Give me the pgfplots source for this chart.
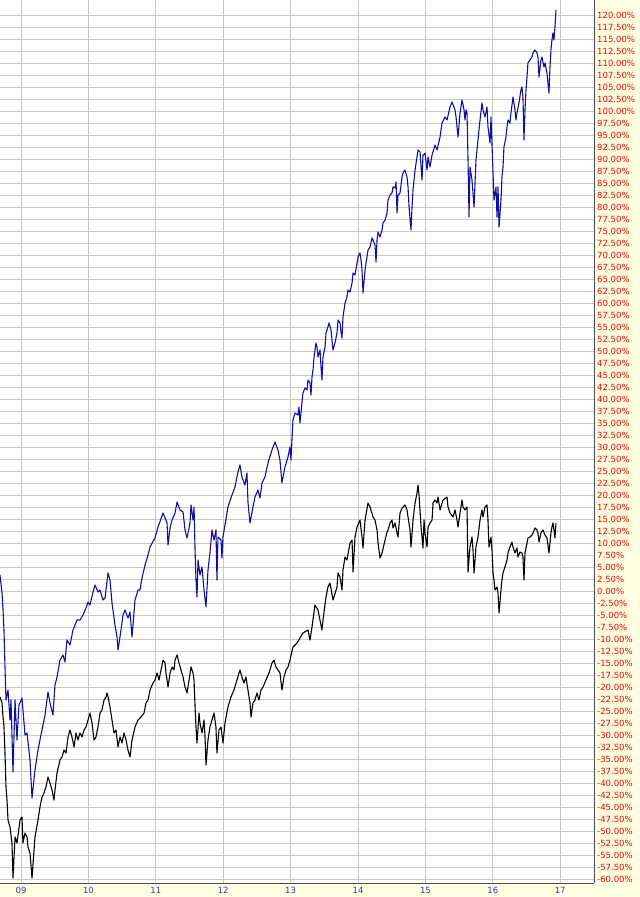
\documentclass[border=0pt]{standalone}
\usepackage{pgfplots}
\pgfplotsset{compat=1.18}
\usepackage{fontspec}
\setmainfont{DejaVu Sans}
\definecolor{bgyellow}{RGB}{255,255,225}
\definecolor{gridgray}{RGB}{200,200,200}
\definecolor{navy}{RGB}{16,16,160}
\definecolor{lblred}{RGB}{255,0,0}
\definecolor{lblblue}{RGB}{50,50,200}
\begin{document}
\begin{tikzpicture}
\fill[bgyellow] (0,0) rectangle (640bp,-897bp);
\begin{axis}[
  at={(0,0)}, anchor=north west,
  scale only axis, width=594bp, height=883bp,
  xmin=2008.688, xmax=2017.501,
  ymin=-60.833, ymax=123.125,
  axis background/.style={fill=white},
  axis x line*=bottom, axis y line*=right,
  axis line style={draw=black!70, line width=0.8bp},
  xtick={2009,2010,2011,2012,2013,2014,2015,2016,2017},
  xticklabels={09,10,11,12,13,14,15,16,17},
  ytick={-60,-57.5,...,120},
  major tick length=0pt,
  grid=major,
  major grid style={draw=gridgray, line width=0.9bp},
  /pgf/number format/assume math mode=true,
  tick label style={font=\fontsize{8.5bp}{10bp}\selectfont},
  yticklabel pos=right,
  yticklabel={\pgfmathprintnumber[fixed,fixed zerofill,precision=2]{\tick}\%},
  yticklabel style={anchor=west, inner sep=0pt, xshift=3bp, text=lblred},
  xticklabel style={anchor=north, inner sep=0pt, yshift=-3.8bp, text=lblblue},
  clip=true,
]
\addplot[navy, line width=1.1bp, line join=round] coordinates {
(2008.688,3.33)(2008.718,-0.42)(2008.733,-3.96)(2008.747,-8.13)(2008.762,-15.83)(2008.777,-22.71)(2008.807,-20.63)(2008.836,-26.88)(2008.851,-22.71)(2008.881,-37.71)(2008.911,-22.71)(2008.940,-31.04)(2008.970,-23.75)(2009.014,-22.29)(2009.059,-30.0)(2009.089,-29.58)(2009.133,-35.21)(2009.163,-43.13)(2009.207,-37.29)(2009.252,-33.13)(2009.281,-31.04)(2009.326,-27.92)(2009.356,-25.83)(2009.400,-21.04)(2009.430,-23.33)(2009.474,-25.83)(2009.504,-19.58)(2009.534,-17.92)(2009.578,-14.38)(2009.623,-13.33)(2009.652,-14.79)(2009.682,-10.21)(2009.727,-11.25)(2009.771,-8.13)(2009.830,-6.04)(2009.875,-6.04)(2009.919,-5.0)(2009.964,-3.54)(2009.994,-2.29)(2010.023,-2.92)(2010.068,-0.21)(2010.098,1.25)(2010.142,-0.21)(2010.172,0.21)(2010.216,-1.88)(2010.246,-1.46)(2010.291,3.75)(2010.320,2.29)(2010.350,-2.5)(2010.394,-7.08)(2010.424,-9.58)(2010.439,-12.29)(2010.483,-8.13)(2010.513,-5.0)(2010.543,-3.96)(2010.587,-5.63)(2010.617,-4.38)(2010.647,-9.58)(2010.691,-1.88)(2010.736,0.21)(2010.765,0.21)(2010.795,2.71)(2010.840,5.42)(2010.884,7.5)(2010.914,9.17)(2010.988,11.04)(2011.033,13.33)(2011.107,16.25)(2011.137,15.21)(2011.166,14.17)(2011.181,9.58)(2011.211,13.13)(2011.240,14.79)(2011.285,16.25)(2011.315,18.54)(2011.359,16.88)(2011.404,16.46)(2011.433,12.71)(2011.463,11.04)(2011.507,14.17)(2011.522,17.92)(2011.552,14.79)(2011.567,17.5)(2011.582,8.54)(2011.596,2.29)(2011.611,-1.25)(2011.626,6.46)(2011.655,3.33)(2011.685,5.0)(2011.715,0.21)(2011.744,-3.33)(2011.774,4.38)(2011.803,7.92)(2011.833,12.71)(2011.863,10.63)(2011.892,12.71)(2011.907,2.29)(2011.922,11.25)(2011.967,10.63)(2011.981,6.88)(2011.996,11.25)(2012.056,16.25)(2012.070,17.5)(2012.130,20.0)(2012.174,21.67)(2012.219,24.79)(2012.248,26.25)(2012.278,23.75)(2012.322,22.08)(2012.352,24.58)(2012.367,18.54)(2012.397,14.17)(2012.441,17.5)(2012.471,19.58)(2012.515,21.04)(2012.545,19.38)(2012.575,22.5)(2012.619,23.75)(2012.664,26.67)(2012.723,29.38)(2012.768,31.04)(2012.812,29.38)(2012.842,27.29)(2012.871,22.5)(2012.916,25.83)(2012.961,27.92)(2012.990,30.0)(2013.005,27.29)(2013.035,35.63)(2013.064,37.08)(2013.109,36.67)(2013.124,38.33)(2013.139,35.0)(2013.168,39.17)(2013.183,41.25)(2013.213,42.29)(2013.243,41.88)(2013.258,43.96)(2013.287,43.33)(2013.302,40.83)(2013.317,44.58)(2013.332,46.04)(2013.347,48.75)(2013.376,51.67)(2013.391,50.83)(2013.406,48.75)(2013.436,50.21)(2013.451,46.67)(2013.465,43.96)(2013.480,48.75)(2013.510,50.83)(2013.525,53.75)(2013.540,54.38)(2013.569,55.83)(2013.599,54.38)(2013.614,52.29)(2013.629,50.21)(2013.658,51.67)(2013.688,53.75)(2013.703,56.46)(2013.733,55.83)(2013.747,53.96)(2013.762,52.71)(2013.777,57.08)(2013.807,60.0)(2013.836,61.25)(2013.851,62.71)(2013.881,62.29)(2013.911,64.17)(2013.926,66.25)(2013.955,65.83)(2013.985,68.33)(2014.000,69.58)(2014.029,70.42)(2014.044,68.96)(2014.059,66.88)(2014.074,62.08)(2014.104,66.88)(2014.133,69.58)(2014.148,71.04)(2014.178,71.67)(2014.208,73.54)(2014.223,73.13)(2014.252,72.08)(2014.267,68.54)(2014.282,73.13)(2014.297,74.79)(2014.326,73.75)(2014.356,75.21)(2014.371,76.67)(2014.401,77.29)(2014.430,78.75)(2014.445,81.46)(2014.475,82.5)(2014.504,82.92)(2014.519,84.17)(2014.549,83.96)(2014.564,85.21)(2014.579,78.75)(2014.593,82.5)(2014.623,82.92)(2014.653,86.25)(2014.668,87.08)(2014.697,87.71)(2014.727,86.25)(2014.742,84.17)(2014.757,80.0)(2014.786,75.21)(2014.801,80.0)(2014.816,83.54)(2014.846,87.71)(2014.875,90.42)(2014.890,91.88)(2014.920,91.46)(2014.949,85.63)(2014.964,90.83)(2014.994,91.25)(2015.024,87.71)(2015.039,90.42)(2015.068,88.33)(2015.098,90.83)(2015.143,92.92)(2015.172,91.88)(2015.217,94.58)(2015.246,97.5)(2015.291,98.75)(2015.320,98.13)(2015.365,100.83)(2015.395,101.88)(2015.439,100.21)(2015.454,98.75)(2015.484,94.58)(2015.513,99.58)(2015.543,102.29)(2015.573,100.21)(2015.587,98.13)(2015.602,100.21)(2015.617,99.58)(2015.632,89.79)(2015.647,77.92)(2015.661,88.33)(2015.691,85.63)(2015.721,80.0)(2015.750,89.79)(2015.780,93.96)(2015.810,98.13)(2015.839,101.67)(2015.854,100.21)(2015.884,98.75)(2015.914,100.83)(2015.928,96.67)(2015.958,93.33)(2015.973,98.75)(2016.003,87.08)(2016.017,81.46)(2016.047,84.17)(2016.062,77.92)(2016.077,84.17)(2016.092,75.83)(2016.121,81.46)(2016.136,86.25)(2016.151,88.33)(2016.165,92.5)(2016.195,94.58)(2016.210,96.67)(2016.225,98.13)(2016.254,97.5)(2016.269,99.58)(2016.299,102.92)(2016.329,100.21)(2016.343,98.13)(2016.358,99.58)(2016.388,101.67)(2016.417,104.38)(2016.432,105.0)(2016.447,102.92)(2016.462,93.96)(2016.477,100.21)(2016.492,104.38)(2016.507,107.08)(2016.521,110.0)(2016.551,110.63)(2016.581,111.25)(2016.596,112.08)(2016.625,112.71)(2016.655,112.08)(2016.670,111.25)(2016.685,107.08)(2016.714,110.63)(2016.729,111.25)(2016.759,109.17)(2016.774,110.0)(2016.803,107.92)(2016.818,105.83)(2016.833,103.75)(2016.848,109.17)(2016.862,112.71)(2016.877,114.79)(2016.892,116.25)(2016.907,114.79)(2016.922,117.5)(2016.937,121.04)
};
\addplot[black, line width=1.1bp, line join=round] coordinates {
(2008.688,-22.08)(2008.718,-23.33)(2008.733,-26.25)(2008.747,-28.33)(2008.762,-33.75)(2008.777,-40.83)(2008.792,-43.54)(2008.807,-47.71)(2008.836,-49.17)(2008.866,-52.5)(2008.881,-59.8)(2008.911,-51.25)(2008.940,-52.5)(2008.985,-47.71)(2009.014,-47.08)(2009.029,-52.5)(2009.059,-50.42)(2009.089,-51.25)(2009.103,-53.33)(2009.133,-54.58)(2009.163,-59.79)(2009.207,-51.25)(2009.252,-47.71)(2009.281,-45.0)(2009.311,-42.92)(2009.341,-42.08)(2009.370,-40.83)(2009.400,-38.75)(2009.430,-40.0)(2009.460,-41.46)(2009.489,-43.54)(2009.504,-41.46)(2009.534,-37.92)(2009.578,-35.21)(2009.608,-34.58)(2009.638,-33.13)(2009.667,-33.75)(2009.697,-30.42)(2009.727,-28.96)(2009.756,-30.42)(2009.786,-32.5)(2009.816,-29.58)(2009.845,-31.04)(2009.875,-29.58)(2009.905,-30.42)(2009.934,-28.96)(2009.964,-28.33)(2009.994,-26.88)(2010.023,-25.42)(2010.053,-27.5)(2010.083,-31.04)(2010.112,-30.42)(2010.142,-28.33)(2010.172,-25.42)(2010.201,-24.79)(2010.231,-22.71)(2010.261,-22.08)(2010.276,-21.25)(2010.291,-22.08)(2010.320,-24.17)(2010.350,-26.88)(2010.380,-29.58)(2010.409,-28.96)(2010.439,-32.5)(2010.469,-30.42)(2010.498,-31.67)(2010.528,-29.58)(2010.558,-31.04)(2010.587,-33.13)(2010.617,-34.58)(2010.647,-31.04)(2010.691,-28.33)(2010.736,-26.88)(2010.780,-26.25)(2010.825,-25.42)(2010.854,-23.33)(2010.884,-22.71)(2010.914,-20.63)(2010.958,-19.17)(2010.988,-18.54)(2011.018,-17.08)(2011.047,-18.54)(2011.077,-16.46)(2011.107,-14.38)(2011.137,-15.0)(2011.151,-17.08)(2011.181,-20.0)(2011.211,-17.08)(2011.240,-15.83)(2011.270,-16.46)(2011.285,-14.38)(2011.315,-13.33)(2011.344,-15.0)(2011.374,-16.46)(2011.404,-17.92)(2011.433,-20.0)(2011.463,-21.25)(2011.493,-18.54)(2011.522,-15.83)(2011.552,-17.08)(2011.567,-18.54)(2011.582,-24.17)(2011.596,-28.33)(2011.611,-31.67)(2011.641,-25.42)(2011.655,-27.5)(2011.685,-29.58)(2011.715,-26.88)(2011.730,-30.42)(2011.744,-36.25)(2011.774,-31.04)(2011.803,-28.33)(2011.833,-26.88)(2011.863,-25.42)(2011.892,-28.33)(2011.907,-33.75)(2011.937,-28.96)(2011.967,-28.33)(2011.996,-31.67)(2012.026,-27.5)(2012.070,-24.17)(2012.115,-22.08)(2012.159,-20.63)(2012.204,-18.54)(2012.233,-17.08)(2012.248,-16.46)(2012.278,-17.92)(2012.308,-19.17)(2012.337,-17.92)(2012.367,-20.63)(2012.397,-23.33)(2012.412,-26.25)(2012.441,-23.33)(2012.471,-22.71)(2012.501,-21.25)(2012.530,-22.71)(2012.560,-20.63)(2012.590,-20.0)(2012.634,-18.54)(2012.679,-17.08)(2012.723,-15.0)(2012.753,-14.38)(2012.782,-15.83)(2012.812,-16.46)(2012.842,-17.08)(2012.871,-20.63)(2012.901,-17.92)(2012.931,-16.46)(2012.961,-15.83)(2012.990,-14.38)(2013.035,-11.67)(2013.094,-10.83)(2013.139,-9.79)(2013.183,-8.75)(2013.258,-8.13)(2013.287,-10.21)(2013.317,-7.5)(2013.361,-2.92)(2013.406,-3.96)(2013.465,-8.13)(2013.480,-6.04)(2013.525,-1.25)(2013.554,0.83)(2013.584,1.67)(2013.629,-1.88)(2013.688,0.83)(2013.703,3.75)(2013.733,2.92)(2013.762,0.21)(2013.777,4.38)(2013.807,7.08)(2013.836,6.46)(2013.881,10.0)(2013.911,10.63)(2013.926,3.96)(2013.955,11.25)(2013.985,13.33)(2014.029,14.79)(2014.059,11.25)(2014.074,8.96)(2014.104,14.79)(2014.148,18.33)(2014.178,17.5)(2014.223,15.42)(2014.252,14.79)(2014.282,12.71)(2014.297,10.0)(2014.326,6.88)(2014.356,7.92)(2014.401,10.63)(2014.430,12.29)(2014.445,12.71)(2014.475,14.17)(2014.504,14.79)(2014.519,13.13)(2014.549,14.17)(2014.579,12.08)(2014.593,11.25)(2014.623,16.25)(2014.653,17.29)(2014.668,17.5)(2014.697,17.92)(2014.727,16.88)(2014.742,15.42)(2014.771,12.71)(2014.786,9.17)(2014.816,14.79)(2014.846,18.33)(2014.875,20.42)(2014.890,22.08)(2014.905,20.0)(2014.935,13.33)(2014.949,11.25)(2014.964,8.96)(2014.979,14.79)(2014.994,12.08)(2015.024,9.17)(2015.039,13.33)(2015.068,14.17)(2015.098,14.79)(2015.113,18.33)(2015.143,18.96)(2015.172,18.33)(2015.187,19.58)(2015.217,16.88)(2015.261,18.96)(2015.320,19.58)(2015.335,17.5)(2015.365,16.25)(2015.410,15.42)(2015.439,16.88)(2015.469,14.79)(2015.484,13.33)(2015.513,16.25)(2015.543,18.96)(2015.558,17.5)(2015.587,16.88)(2015.617,17.5)(2015.632,3.96)(2015.661,9.17)(2015.691,11.25)(2015.706,8.54)(2015.721,3.75)(2015.750,9.17)(2015.780,11.25)(2015.810,14.79)(2015.839,16.88)(2015.854,15.42)(2015.884,17.5)(2015.914,17.92)(2015.928,14.79)(2015.943,9.17)(2015.973,11.25)(2015.988,8.54)(2016.003,3.75)(2016.017,2.29)(2016.032,0.21)(2016.062,0.83)(2016.077,-0.42)(2016.092,-4.58)(2016.121,0.21)(2016.136,2.29)(2016.151,3.75)(2016.180,5.0)(2016.210,6.46)(2016.225,7.92)(2016.254,9.17)(2016.284,10.21)(2016.299,9.17)(2016.329,7.92)(2016.358,8.96)(2016.373,7.08)(2016.403,8.13)(2016.432,7.92)(2016.447,7.08)(2016.462,2.29)(2016.477,7.92)(2016.507,10.0)(2016.521,11.04)(2016.551,11.25)(2016.581,11.67)(2016.596,12.08)(2016.625,13.13)(2016.655,12.71)(2016.670,12.08)(2016.685,10.21)(2016.714,12.08)(2016.744,12.71)(2016.774,11.67)(2016.803,11.04)(2016.818,9.58)(2016.833,7.92)(2016.862,12.08)(2016.877,13.33)(2016.892,14.17)(2016.907,12.71)(2016.922,11.04)(2016.937,14.17)
};
\end{axis}
\pgfresetboundingbox
\path[use as bounding box] (0,0) rectangle (640bp,-897bp);
\end{tikzpicture}
\end{document}
